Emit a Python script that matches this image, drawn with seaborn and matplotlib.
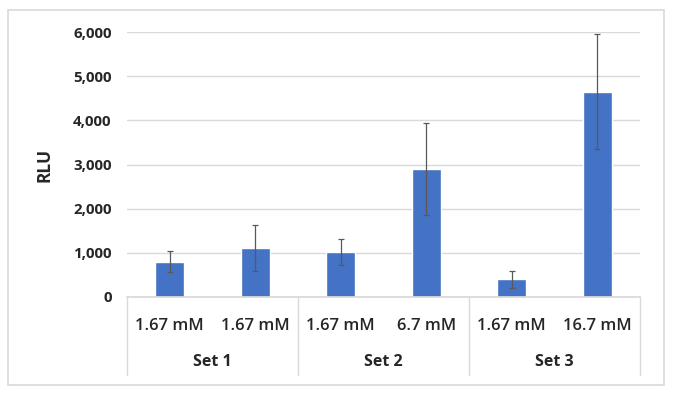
import matplotlib
matplotlib.use("Agg")
import matplotlib.pyplot as plt
import seaborn as sns
import pandas as pd
import numpy as np
from matplotlib.patches import Rectangle
from matplotlib.ticker import FuncFormatter, MultipleLocator
import matplotlib.transforms as mtransforms

conc_labels = ["1.67 mM", "1.67 mM", "1.67 mM", "6.7 mM", "1.67 mM", "16.7 mM"]
set_labels = ["Set 1", "Set 2", "Set 3"]
set_of_bar = ["Set 1", "Set 1", "Set 2", "Set 2", "Set 3", "Set 3"]
rlu_mean = [800, 1100, 1020, 2900, 400, 4650]
rlu_err = [240, 520, 290, 1050, 195, 1310]

sns.set_theme(style="white")
plt.rcParams["font.family"] = ["Open Sans", "DejaVu Sans"]

df = pd.DataFrame({"pos": [str(i) for i in range(len(rlu_mean))], "RLU": rlu_mean})

fig = plt.figure(figsize=(6.75, 3.95), dpi=100)
fig.patch.set_facecolor("white")
# outer frame
fig.add_artist(Rectangle((8 / 675, 1 - 385 / 395), (664 - 8) / 675, (385 - 10) / 395,
                         transform=fig.transFigure, fill=False, edgecolor="#D9D9D9", lw=1.2))

ax = fig.add_axes([127 / 675, 1 - 297 / 395, (640 - 127) / 675, (297 - 32) / 395])
sns.barplot(data=df, x="pos", y="RLU", color="#4472C4", width=0.34, ax=ax, errorbar=None,
            saturation=1)
ax.errorbar(range(len(rlu_mean)), rlu_mean, yerr=rlu_err, fmt="none", ecolor="#595959",
            elinewidth=0.9, capsize=2.5, capthick=0.9, zorder=4)

ax.set_ylim(0, 6000)
ax.set_xlim(-0.5, len(rlu_mean) - 0.5)
ax.yaxis.set_major_locator(MultipleLocator(1000))
ax.yaxis.set_major_formatter(FuncFormatter(lambda v, p: f"{int(v):,}"))
ax.grid(axis="y", color="#D9D9D9", lw=1)
ax.set_axisbelow(True)
for s in ["top", "right", "left"]:
    ax.spines[s].set_visible(False)
ax.spines["bottom"].set_color("#D9D9D9")
ax.tick_params(axis="y", length=0, pad=11, labelsize=10.8, labelcolor="#262626")
for t in ax.get_yticklabels():
    t.set_fontweight("bold")
ax.set_xticks([])
ax.set_xlabel("")
ax.set_ylabel("RLU", fontsize=12.5, fontweight="bold", labelpad=14, color="#262626")

# multi-level category axis
trans = mtransforms.blended_transform_factory(ax.transData, ax.transAxes)
for i, lab in enumerate(conc_labels):
    ax.text(i, -0.11, lab, transform=trans, ha="center", va="center", fontsize=12,
            fontweight="semibold", color="#262626")
line_y_bottom = -(375 - 297) / (297 - 32)
for b in [-0.5, 1.5, 3.5, 5.5]:
    ax.plot([b, b], [0, line_y_bottom], transform=trans, color="#D9D9D9", lw=1, clip_on=False)
for j, lab in enumerate(set_labels):
    ax.text(2 * j + 0.5, -0.245, lab, transform=trans, ha="center", va="center",
            fontsize=11.5, fontweight="bold", color="#262626")

fig.savefig("out.png", dpi=100, facecolor="white")
